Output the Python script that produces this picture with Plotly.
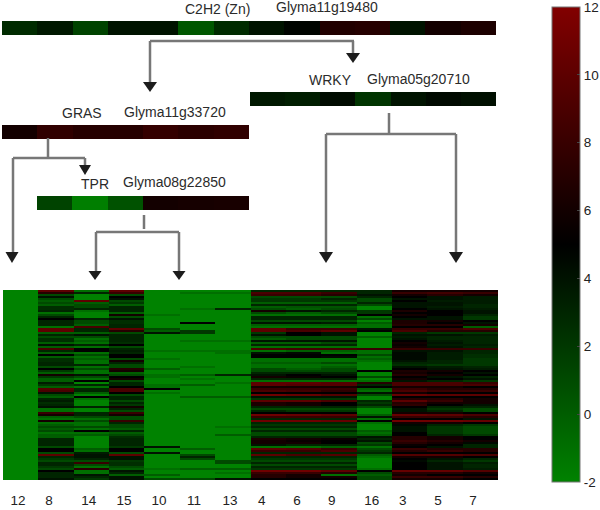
import plotly.graph_objects as go

W, H = 600, 510
col_labels = ["12", "8", "14", "15", "10", "11", "13", "4", "6", "9", "16", "3", "5", "7"]
label_px = [18, 49, 88.7, 124, 159, 194, 230, 261.7, 297, 331.7, 371.7, 402.7, 438, 473]

c2h2_vals = [2.7, 3.7, 1.4, 4, 4, 0.3, 2.7, 4, 4.8, 6.8, 7, 4, 6, 6.5]
wrky_vals = [3.7, 3.4, 4.4, 2.2, 4, 4.5, 4.2]
gras_vals = [6, 7.6, 7, 7, 7.8, 7.3, 7.6]
tpr_vals = [1.4, -1.8, 0.6, 6, 6.2, 6.3]

col_12 = [-2] * 95
col_8 = [10,7,1,4,1,0,1,0,2.5,2.5,
         3,-1,1,3,5,3,3,3,-1,10,
         10,0,3,1,2.5,2.5,0,4,0,9,
         3,0,5,0,2.5,2.5,3,3,1,5,
         2,0,6,2,0,0,3.5,2,0,9.5,
         9,4,1,0,3,3.5,2.5,3,4,-1,
         -1,8,6,0,-1,6,-1,0,1,0,
         1,-1,0,0,3,3,3,3,1,5,
         5,1,10,3,2,1,3,3,2,1,
         5,3,3,3,4]
col_14 = [-1,3,-2,-2,-2,10,0,1,1,3,
          -1,-2,-2,-2,3,1,1,0,9,3,
          3,0,4,1,-1,0,-1,3,-1,5,
          5,-1,1,-1,0,-1,-1,3,-1,1,
          -1,-1,4,1,-1,5,-2,3,-1,3,
          3,0,-2,5,-1,-2,-2,-2,3,-2,
          -2,3,3,1,-1,1,-1,-1,1,-1,
          5,-1,0,-2,-2,-2,-2,-2,-2,0,
          -1,3.5,4,4,3,1,8,1,-1,7,
          -1,-1,4,3,2]
col_15 = [10,8,1,5,4,1,2,0,3,3,
          3,0,6,1,4,2.5,2.5,3,3,10,
          7,1,3,3,3,3,2.5,5,1,3,
          3.5,3,5,5,1,6,3,1,1,7,
          6,0,1,5,6,1,3,3,5,9,
          9,5,1,3,3,1,3,2,6,3,
          1,8,6,1,1,8,3,1,1,0,
          3,0,1,2.5,3,3,3,3,2,5,
          5,1,10,4,4,2,2.5,2.5,1,0,
          4,3,0,4,4]
col_10 = [-2,-2,-2,-2,-2,-2,-2,-2,-2,-2,
          -2,-2,-1,-2,-2,-2,-2,-2,-2,1,
          0,4,-2,-2,-2,-2,-2,-2,-2,-2,
          -1,-2,-2,-2,-1,-2,-2,-2,-2,0,
          -2,-2,-1,-1,-2,-2,-2,-1,-1,5,
          -2,-1,-2,-2,-2,-2,-2,-2,-2,-2,
          -2,-2,-2,-2,-2,-2,-2,-2,-2,-2,
          -2,-2,-2,-2,-2,-2,-2,-2,4,-2,
          -2,4,-2,-2,-2,-2,-2,-2,-2,-1,
          -2,-2,0,-2,1]
col_11 = [-2,-1,-2,-2,-2,-2,-2,-2,-2,-1,
          -2,-2,-2,-2,-2,-2,5,-2,-2,-2,
          2,2,-2,-2,-2,-1,-2,-2,-2,-2,
          -1,-2,-2,-2,-2,-2,-2,-2,-1,-2,
          -2,-2,0,-2,-1,-2,-2,0,-2,-2,
          -2,-2,-2,0,-2,-2,-2,-2,-2,-2,
          -2,-2,-2,-2,-2,-2,-2,-2,-2,-2,
          -2,-2,-2,-2,-2,-2,-2,-2,-2,0,
          -2,-2,1,3,1,-2,-2,-2,-2,0,
          -2,-2,-2,-2,1]
col_13 = [-2,-1,-2,-2,-2,-2,-2,-2,-2,3,
          -2,-2,-2,-2,-2,-2,-2,-2,-2,-2,
          -2,-2,-2,-2,-2,-1,-2,-2,-2,-2,
          -1,-1,-2,-2,-2,-2,-2,-2,-2,-2,
          -2,-2,3,-2,-2,-2,-1,-2,-2,-2,
          -2,-2,-2,0,-2,-2,-2,-2,-2,-2,
          -2,-2,-2,-2,-2,-2,-2,-2,-1,-2,
          -2,-2,0,-2,-2,-2,-2,-2,-2,-2,
          -2,-2,-2,-2,-2,1,1,-2,-2,0,
          -2,-1,-2,-2,4]
col_4 = [3,9,8,1,2,2,0,3,0,1,
         6,1,-1,3,3,1,4,0,-1,10,
         10,2,4,1,0,4,0,3,-1,9,
         -1,4,5,5,-1,-1,0,-1,-1,1,
         1,3,4,6,3,-1,10,10,6,8,
         9,5,11,4,2,10,6.5,6.5,3,1,
         3,5,11,8,3,11,3,2,3,1,
         3,1,1,3,6.5,6,6,4,-1,10,
         8,3,10,3,2,1,3,1,3,2,
         11,8,7,7,5]
col_6 = [3,9,8,1,2,2,0,3,0.5,0,
         4,0,-1,3,3,1,4,0,-1,8,
         9,5,5,1,1,4,0,3,-1,8.5,
         0,4.5,5,5,-1,-1,0,-1,-1,0,
         1,3,5,5.5,3,-1,10,9.5,6,8,
         8.5,5,10.5,4,2,10,6,6,3,1,
         2,5,10.5,8,3,11,3,2,3,1,
         3,1,1,3,6,5.5,6,3,-1,9.5,
         8,3,9,3,2,1,3,1,3,2,
         11,8,6,6,5]
col_9 = [3,8,7,1,3,2,0,3,0.5,1,
         3,1,-1,3,3,1,3.5,0,-1,8,
         10,4,4,1,1,4,1,3,-1,8.5,
         0,-1,5,4.5,-1,-1,1,-1,0,1,
         1,3,4,5,3,-1,9.5,9.5,6,8,
         7.5,5,9.5,4,2,9,5,5,3,1,
         2,5,10,8,3,10.5,3,2,3,1,
         3,1,1,3,5.5,5,5,3,0,8,
         9,3,9.5,3,2,1,3,1,3,2,
         10,7,-1,6,5]
col_16 = [3,3,4,3,1,1,3,1,-2,-2,
          2,2,5,-1,1,-2,0,-1,-1,4,
          5,-2,-2,0,-2,-2,-2,-2,-2,8,
          -1,-1,1,-1,0,-1,-2,-2,-2,-2,
          5,-2,-2,1,-2,-1,7,3,5,0,
          -1,4,1,-2,-2,3,2,3,1,-2,
          -2,-2,0,4,-1,5,-1,-2,-2,-2,
          0,-1,0,4,3,4,1,2,-1,1,
          2,3,0,-1,-2,-2,-2,-2,-2,-1,
          5,1,0,1,1]
col_3 = [6,8,6,5,4,5,4,4,4,5,
         6.5,5,6,5,4,6.5,6.5,7,5,8,
         9,3,4,3.5,4,5,6,5.5,6,8,
         4,4.5,4.5,4.5,4.5,4,3,2.5,4,5,
         6.5,6,7,5,6,4,9,9,6,8,
         9,6,10.5,5,7,10,7,7.5,5,4,
         4,6,10.5,8,5,11,6,4.5,4,4,
         4,5,5,7,7,8,7,5.5,5,8,
         7,5,9.5,6,5,4.5,5,5,5,5,
         10.5,7,6,8,6]
col_5 = [6,8.5,7,4,4,3.5,4,4,3.5,4,
         5,5,5,4,4,6,5,7,5,8,
         7,2,4,3,3,3.5,4,3.5,4,8,
         4,3.5,3.5,3.5,3.5,3,3,2,3.5,4,
         6,5,6,4,5,3,9,9,6,7,
         8,5,10,5,7,8,6,5,3,2,
         3,6,10,8,5,11,6,3,2,2,
         2,2,3,6,6,7,6,5,4,7,
         8,5,9.5,6,4,3,4,4,4,4,
         10.5,7,5,8,6]
col_7 = [6,8,6,3.5,3.5,3.5,3.5,3,3,3.5,
         4,4,3,2,2,5,4,6,0,9,
         7,2,3.5,3,3,3,3,3.5,3,8,
         3,3,2.5,2.5,2,2,2,2,3,3.5,
         5,4,5,3,4,2,8,9,5,7,
         8,5,10,5,6,6,6,4,3,1,
         1,5,9,7,4,10.5,5,2,1,1,
         1,1,2,5,5,6,4.5,3,3,7,
         7,5,9,5,3,2,3.5,3,3,3.5,
         9.5,6,5,7,5]
columns = [col_12, col_8, col_14, col_15, col_10, col_11, col_13, col_4, col_6,
           col_9, col_16, col_3, col_5, col_7]
assert all(len(c) == 95 for c in columns), [len(c) for c in columns]
matrix = [list(r) for r in zip(*columns)]

scale = [[0, "rgb(0,130,0)"], [0.5, "rgb(0,0,0)"], [1, "rgb(130,0,0)"]]
px = lambda x: x / W
py = lambda y: 1 - y / H

fig = go.Figure()


def add_map(idx, z, box):
    x0, x1, y0, y1 = box
    suffix = "" if idx == 1 else str(idx)
    fig.add_trace(go.Heatmap(z=z, coloraxis="coloraxis", xaxis="x" + suffix, yaxis="y" + suffix,
                             xgap=0, ygap=0, hoverinfo="skip"))
    fig.layout["xaxis" + suffix] = dict(domain=[px(x0), px(x1)], anchor="y" + suffix, visible=False,
                                        range=[-0.5, len(z[0]) - 0.5], fixedrange=True)
    fig.layout["yaxis" + suffix] = dict(domain=[py(y1), py(y0)], anchor="x" + suffix, visible=False,
                                        range=[len(z) - 0.5, -0.5], fixedrange=True)


main_box = (3, 498, 290, 480)
add_map(1, matrix, main_box)
add_map(2, [c2h2_vals], (2, 496, 21, 35))
add_map(3, [wrky_vals], (250, 496, 92, 106))
add_map(4, [gras_vals], (2, 249, 125, 139))
add_map(5, [tpr_vals], (37, 249, 196, 210))

col_w = (main_box[1] - main_box[0]) / len(col_labels)
fig.layout.xaxis.update(visible=True, showgrid=False, zeroline=False, showline=False,
                        tickmode="array", tickvals=[(p - 3) / col_w - 0.5 for p in label_px],
                        ticktext=col_labels, ticks="outside", ticklen=8, tickcolor="rgba(0,0,0,0)",
                        tickfont=dict(family="Liberation Sans", size=13.5, color="#222"))

# connectors: (x0, y0, x1, y1) in pixels
lines = [(150, 41, 354, 41), (150, 41, 150, 84), (353, 41, 353, 56),
         (389, 113, 389, 134), (326, 134, 456, 134), (326, 134, 326, 254), (456, 134, 456, 254),
         (48, 138, 48, 158), (13, 158, 85, 158), (13, 158, 13, 254), (85, 158, 85, 167),
         (144, 215, 144, 229), (96, 232, 179, 232), (96, 232, 96, 274), (179, 232, 179, 274)]
# arrow heads: centre x, top y, half width, height
heads = [(150, 82, 7, 10), (353, 53, 7, 10), (326, 252, 7, 11), (456, 252, 7, 11),
         (12, 252, 6.5, 11), (85, 165, 6, 10), (95, 271, 6.5, 9), (179, 271, 6.5, 9)]
shapes = []
for x0, y0, x1, y1 in lines:
    shapes.append(dict(type="line", xref="paper", yref="paper", x0=px(x0), y0=py(y0), x1=px(x1), y1=py(y1),
                       line=dict(color="#777777", width=2.5)))
for cx, top, hw, h in heads:
    path = f"M {px(cx-hw)} {py(top)} L {px(cx+hw)} {py(top)} L {px(cx)} {py(top+h)} Z"
    shapes.append(dict(type="path", xref="paper", yref="paper", path=path, fillcolor="#1c1c1c",
                       line=dict(width=0)))

labels = [("C2H2 (Zn)", 184, 9), ("Glyma11g19480", 275, 7), ("WRKY", 308, 80), ("Glyma05g20710", 366, 79),
          ("GRAS", 61, 113), ("Glyma11g33720", 123, 112), ("TPR", 80, 184), ("Glyma08g22850", 122, 182)]
annotations = [dict(text=t, x=px(x), y=py(y), xref="paper", yref="paper", xanchor="left", yanchor="middle",
                    showarrow=False, borderpad=0, font=dict(family="Liberation Sans", size=14, color="#2b2b2b"))
               for t, x, y in labels]

fig.update_layout(
    width=W, height=H, margin=dict(l=0, r=0, t=0, b=0, autoexpand=False),
    paper_bgcolor="white", plot_bgcolor="white", shapes=shapes, annotations=annotations,
    coloraxis=dict(cmin=-2, cmax=12, colorscale=scale,
                   colorbar=dict(thickness=28, thicknessmode="pixels", len=475 / H, lenmode="fraction",
                                 x=552 / W, xanchor="left", xpad=0, y=py(482), yanchor="bottom", ypad=0,
                                 outlinewidth=1, outlinecolor="#777", tickmode="array",
                                 tickvals=[-2, 0, 2, 4, 6, 8, 10, 12],
                                 ticktext=["-2", "0", "2", "4", "6", "8", "10", "12"],
                                 ticks="inside", ticklen=3, tickcolor="#444", tickwidth=1,
                                 ticklabeloverflow="allow",
                                 tickfont=dict(family="Liberation Sans", size=13.5, color="#222"))),
)
fig.write_html("out.html", config={"displayModeBar": False},
               post_script="document.body.style.margin='0';document.body.style.overflow='hidden';")
